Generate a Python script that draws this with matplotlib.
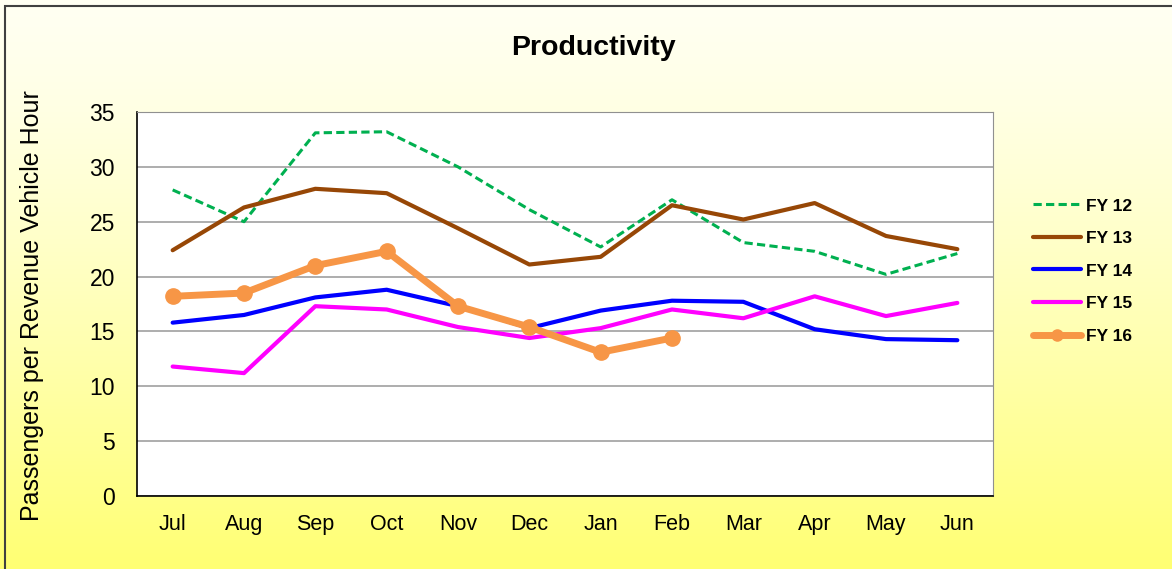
import numpy as np
import matplotlib.pyplot as plt
from matplotlib.patches import Rectangle

plt.rcParams['font.family'] = ['Liberation Sans', 'DejaVu Sans']

months = ["Jul", "Aug", "Sep", "Oct", "Nov", "Dec", "Jan", "Feb", "Mar", "Apr", "May", "Jun"]
fy12 = [27.9, 25.0, 33.1, 33.2, 30.0, 26.1, 22.7, 27.0, 23.1, 22.3, 20.2, 22.1]
fy13 = [22.4, 26.3, 28.0, 27.6, 24.4, 21.1, 21.8, 26.5, 25.2, 26.7, 23.7, 22.5]
fy14 = [15.8, 16.5, 18.1, 18.8, 17.3, 15.3, 16.9, 17.8, 17.7, 15.2, 14.3, 14.2]
fy15 = [11.8, 11.2, 17.3, 17.0, 15.4, 14.4, 15.3, 17.0, 16.2, 18.2, 16.4, 17.6]
fy16 = [18.2, 18.5, 21.0, 22.3, 17.3, 15.4, 13.1, 14.4]

fig = plt.figure(figsize=(11.72, 5.69), dpi=100)

# background gradient, white-ish at top to yellow at bottom
bg = fig.add_axes([0, 0, 1, 1], zorder=-10)
grad = np.linspace(0, 1, 256).reshape(-1, 1)
top = np.array([1.0, 1.0, 0.95])
bot = np.array([1.0, 1.0, 0.45])
img = top + (bot - top) * grad[:, :, None] ** 1.3
bg.imshow(img, aspect='auto', extent=[0, 1, 0, 1], origin='upper')
bg.set_xlim(0, 1)
bg.set_ylim(0, 1)
bg.axis('off')
bg.add_patch(Rectangle((0.004, -0.01), 1.0, 1.0, fill=False, edgecolor='#404040', lw=1.5,
                       transform=bg.transAxes))

ax = fig.add_axes([137 / 1172, 1 - 496 / 569, (993 - 137) / 1172, (496 - 112) / 569])
ax.set_facecolor('white')
x = np.arange(len(months))

ax.plot(x, fy12, color='#00B050', lw=2.2, ls=(0, (2.7, 1.4)), label='FY 12')
ax.plot(x, fy13, color='#974706', lw=3, label='FY 13', solid_capstyle='round')
ax.plot(x, fy14, color='#0000FF', lw=3, label='FY 14', solid_capstyle='round')
ax.plot(x, fy15, color='#FF00FF', lw=3, label='FY 15', solid_capstyle='round')
ax.plot(x[:len(fy16)], fy16, color='#F79646', lw=5, marker='o', ms=11, label='FY 16',
        solid_capstyle='round')

ax.set_xlim(-0.5, 11.5)
ax.set_ylim(0, 35)
ax.set_yticks(range(0, 36, 5))
ax.set_xticks(x)
ax.set_xticklabels(months)
ax.yaxis.grid(True, color='#A0A0A0', lw=1.2)
ax.set_axisbelow(True)
ax.tick_params(axis='both', length=0, labelsize=15.5)
ax.tick_params(axis='y', labelsize=16.5, pad=16)
ax.tick_params(axis='x', pad=13)
for s in ['top', 'right']:
    ax.spines[s].set_color('#909090')
for s in ['left', 'bottom']:
    ax.spines[s].set_color('black')
    ax.spines[s].set_linewidth(1.2)

fig.text(32 / 1172, 1 - 306 / 569, 'Passengers per Revenue Vehicle Hour', rotation=90,
         ha='center', va='center', fontsize=18)
fig.text(593 / 1172, 1 - 48 / 569, 'Productivity', ha='center', va='center',
         fontsize=20.5, fontweight='bold')

leg = fig.legend(loc='center left', bbox_to_anchor=(1017 / 1172, 1 - 271 / 569),
                 frameon=False, handlelength=2.8, labelspacing=1.0, handletextpad=0.3,
                 prop={'weight': 'bold', 'size': 12.5})
for h in leg.get_lines():
    if h.get_marker() == 'o':
        h.set_markersize(8)

fig.savefig('out.png', dpi=100)
